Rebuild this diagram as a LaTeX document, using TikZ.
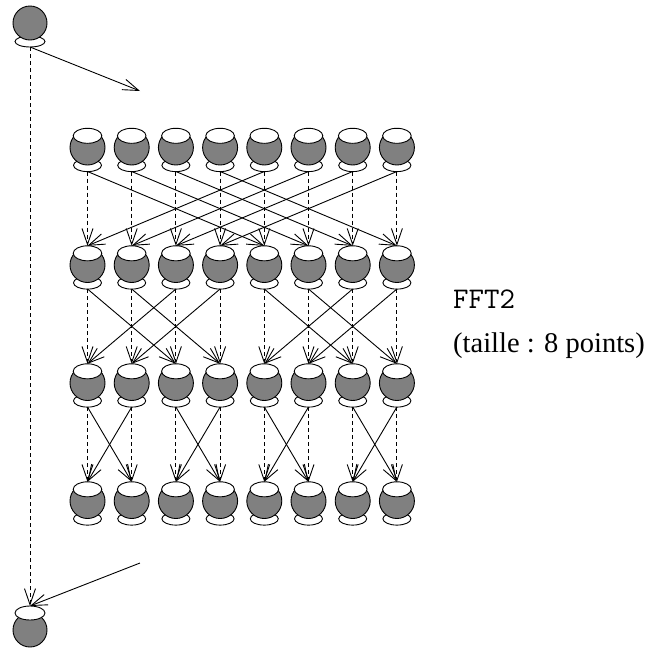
\documentclass[tikz,border=0pt]{standalone}
\usepackage{fontspec}
\setmainfont{Liberation Serif}
\usetikzlibrary{arrows.meta}
\definecolor{potgray}{RGB}{128,128,128}
\tikzset{
  potline/.style={line width=0.9pt},
  pot/.pic={
    \draw[potline,fill=white] (0,17.8) ellipse [x radius=14pt, y radius=6.3pt];
    \draw[potline,fill=potgray] (0,0) circle [radius=17.5pt];
    \draw[potline,fill=white] (0,-11.7) ellipse [x radius=14.3pt, y radius=7.5pt];
  },
  srcpot/.pic={
    \draw[potline,fill=white] (0,18.5) ellipse [x radius=15pt, y radius=5.5pt];
    \draw[potline,fill=potgray] (0,0) circle [radius=17pt];
  },
  sinkpot/.pic={
    \draw[potline,fill=potgray] (0,0) circle [radius=17pt];
    \draw[potline,fill=white] (0,-17) ellipse [x radius=15pt, y radius=7pt];
  },
  vee/.tip={Straight Barb[length=16pt,width=11pt,line width=0.9pt]},
  flow/.style={line width=0.9pt,-{vee}},
  seq/.style={line width=0.9pt,dash pattern=on 4pt off 3pt,-{vee}},
  lbl/.style={anchor=base west,inner sep=0pt,font=\fontsize{28.5}{34}\selectfont},
  ttlbl/.style={anchor=base west,inner sep=0pt,font=\ttfamily\fontsize{30}{34}\selectfont}
}
\begin{document}
\begin{tikzpicture}[x=1pt,y=-1pt]
\useasboundingbox (0,0) rectangle (646,649);
% source and sink
\pic (src) at (30,23) {srcpot};
\coordinate (srcb) at (30,47);
\pic (snk) at (30,630) {sinkpot};
\coordinate (snkt) at (30,606);
\coordinate (outA) at (140,91);
\coordinate (inB) at (140,563);
% grid of pots
\foreach \r/\y in {1/147.5,2/265,3/383,4/501}{
  \foreach \c in {0,...,7}{
    \pgfmathsetmacro{\x}{87.5+44.2*\c}
    \pic (p\r-\c) at (\x,\y) {pot};
    \coordinate (b\r-\c) at (\x,\y+24);
    \coordinate (t\r-\c) at (\x,\y-19.2);
  }
}
% stage edges
\foreach \c in {0,...,7}{
  \draw[seq] (b1-\c) -- (t2-\c);
  \draw[seq] (b2-\c) -- (t3-\c);
  \draw[seq] (b3-\c) -- (t4-\c);
}
\foreach \a/\b in {0/4,1/5,2/6,3/7,4/0,5/1,6/2,7/3}{
  \draw[flow] (b1-\a) -- (t2-\b);
}
\foreach \a/\b in {0/2,1/3,2/0,3/1,4/6,5/7,6/4,7/5}{
  \draw[flow] (b2-\a) -- (t3-\b);
}
\foreach \a/\b in {0/1,1/0,2/3,3/2,4/5,5/4,6/7,7/6}{
  \draw[flow] (b3-\a) -- (t4-\b);
}
% outer connectors
\draw[flow] (srcb) -- (outA);
\draw[seq] (srcb) -- (snkt);
\draw[flow] (inB) -- (snkt);
% labels
\node[ttlbl] (name) at (453,308) {FFT2};
\node[lbl] (size) at (453,352) {(taille : 8 points)};
\end{tikzpicture}
\end{document}
